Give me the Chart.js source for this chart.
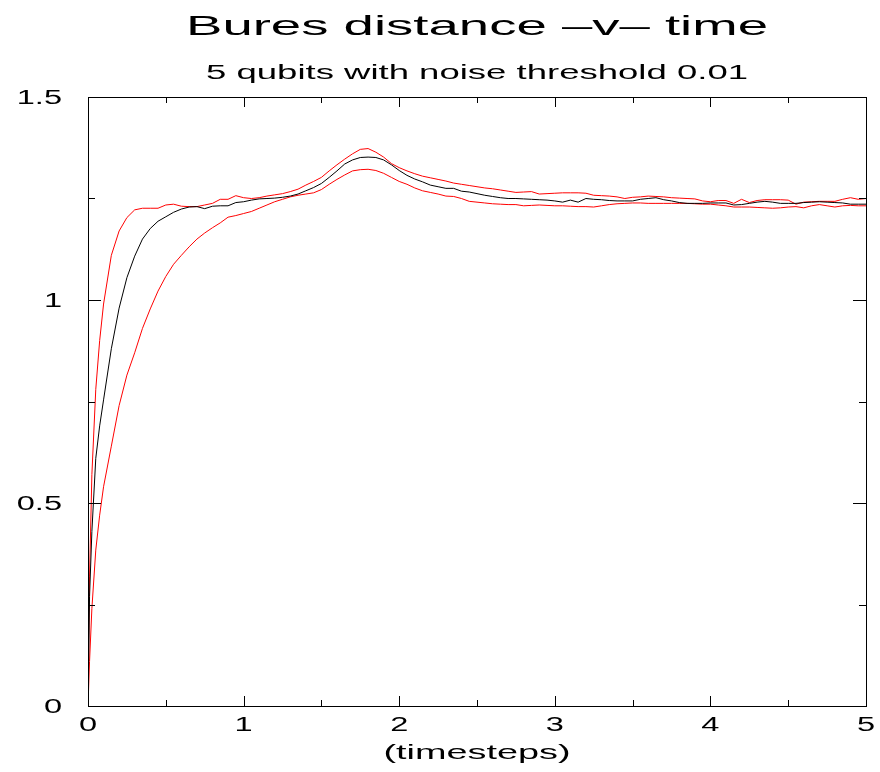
<!DOCTYPE html>
<html>
<head>
<meta charset="utf-8">
<script src="https://cdn.jsdelivr.net/npm/chart.js@4/dist/chart.umd.min.js"></script>
<style>
  html, body { margin: 0; padding: 0; background: #fff; }
  #wrap { width: 880px; height: 772px; }
</style>
</head>
<body>
<div id="wrap"><canvas id="plot" width="880" height="772"></canvas></div>
<script>
// bures distance vs time, 5 qubits

const times = [
  0, 0.01, 0.025, 0.05, 0.075, 0.1, 0.15, 0.2, 0.25, 0.3,
  0.35, 0.4, 0.45, 0.5, 0.55, 0.6, 0.65, 0.7, 0.75, 0.8,
  0.85, 0.9, 0.95, 1, 1.05, 1.1, 1.15, 1.2, 1.25, 1.3,
  1.35, 1.4, 1.45, 1.5, 1.55, 1.6, 1.65, 1.7, 1.75, 1.8,
  1.85, 1.9, 1.95, 2, 2.05, 2.1, 2.15, 2.2, 2.25, 2.3,
  2.35, 2.4, 2.45, 2.5, 2.55, 2.6, 2.65, 2.7, 2.75, 2.8,
  2.85, 2.9, 2.95, 3, 3.05, 3.1, 3.15, 3.2, 3.25, 3.3,
  3.35, 3.4, 3.45, 3.5, 3.55, 3.6, 3.65, 3.7, 3.75, 3.8,
  3.85, 3.9, 3.95, 4, 4.05, 4.1, 4.15, 4.2, 4.25, 4.3,
  4.35, 4.4, 4.45, 4.5, 4.55, 4.6, 4.65, 4.7, 4.75, 4.8,
  4.85, 4.9, 4.95, 5,
]

// upper red band
const upperBand = [
  0, 0.32, 0.57, 0.78, 0.9, 0.99, 1.11, 1.17, 1.203, 1.222,
  1.226, 1.226, 1.226, 1.234, 1.236, 1.231, 1.23, 1.23, 1.234, 1.238,
  1.248, 1.248, 1.257, 1.252, 1.25, 1.252, 1.256, 1.259, 1.262, 1.267,
  1.273, 1.283, 1.292, 1.302, 1.318, 1.333, 1.347, 1.36, 1.371, 1.373,
  1.364, 1.352, 1.336, 1.326, 1.318, 1.311, 1.305, 1.301, 1.297, 1.293,
  1.288, 1.285, 1.282, 1.279, 1.276, 1.274, 1.271, 1.268, 1.265, 1.266,
  1.267, 1.261, 1.262, 1.263, 1.264, 1.264, 1.264, 1.263, 1.258, 1.257,
  1.256, 1.254, 1.25, 1.253, 1.254, 1.256, 1.255, 1.254, 1.252, 1.251,
  1.25, 1.249, 1.244, 1.242, 1.245, 1.245, 1.238, 1.248, 1.24, 1.245,
  1.247, 1.247, 1.247, 1.246, 1.236, 1.241, 1.242, 1.243, 1.243, 1.243,
  1.248, 1.252, 1.248, 1.25,
]

// mean (black)
const meanDist = [
  0, 0.27, 0.43, 0.61, 0.69, 0.754, 0.88, 0.98, 1.055, 1.108,
  1.15, 1.176, 1.194, 1.205, 1.216, 1.224, 1.229, 1.23, 1.225, 1.231,
  1.232, 1.232, 1.24, 1.242, 1.246, 1.249, 1.25, 1.251, 1.253, 1.256,
  1.261, 1.269, 1.277, 1.287, 1.302, 1.318, 1.335, 1.345, 1.351, 1.352,
  1.351, 1.345, 1.333, 1.319, 1.307, 1.298, 1.291, 1.283, 1.279, 1.275,
  1.275, 1.268, 1.266, 1.262, 1.258, 1.255, 1.252, 1.25, 1.25, 1.249,
  1.248, 1.247, 1.246, 1.244, 1.241, 1.246, 1.241, 1.25, 1.248, 1.247,
  1.245, 1.244, 1.244, 1.244, 1.248, 1.25, 1.252, 1.247, 1.244, 1.24,
  1.238, 1.238, 1.238, 1.239, 1.239, 1.239, 1.234, 1.235, 1.238, 1.241,
  1.243, 1.241, 1.238, 1.238, 1.238, 1.24, 1.241, 1.242, 1.241, 1.24,
  1.239, 1.236, 1.236, 1.236,
]

// lower red band
const lowerBand = [
  0, 0.11, 0.24, 0.384, 0.47, 0.54, 0.64, 0.74, 0.815, 0.87,
  0.93, 0.978, 1.022, 1.058, 1.088, 1.11, 1.131, 1.15, 1.165, 1.178,
  1.19, 1.204, 1.208, 1.213, 1.218, 1.226, 1.234, 1.242, 1.248, 1.254,
  1.258, 1.261, 1.264, 1.272, 1.285, 1.297, 1.308, 1.318, 1.321, 1.322,
  1.319, 1.312, 1.302, 1.292, 1.285, 1.276, 1.269, 1.265, 1.261, 1.256,
  1.255, 1.25, 1.243, 1.241, 1.239, 1.237, 1.236, 1.235, 1.235, 1.232,
  1.233, 1.234, 1.233, 1.232, 1.232, 1.231, 1.23, 1.23, 1.229, 1.232,
  1.235, 1.237, 1.238, 1.239, 1.239, 1.238, 1.238, 1.238, 1.238, 1.238,
  1.238, 1.237, 1.236, 1.236, 1.234, 1.232, 1.229, 1.229, 1.229, 1.228,
  1.227, 1.226, 1.227, 1.229, 1.23, 1.227, 1.232, 1.235, 1.232, 1.229,
  1.232, 1.233, 1.232, 1.232,
]

const xLabels = ['0', '1', '2', '3', '4', '5']
const yLabels = ['0', '0.5', '1', '1.5']

const titleText = 'Bures distance \u2013v\u2013 time'
const subtitleText = '5 qubits with noise threshold 0.01'
const xTitleText = '(timesteps)'

const fontFam = "'Liberation Sans', Arial, Helvetica, sans-serif"

const toPoints = (vals) => times.map((t, i) => ({ x: t, y: vals[i] }))

const lineSet = (label, vals, color) => {
  return {
    label: label,
    data: toPoints(vals),
    borderColor: color,
    borderWidth: 1,
    pointRadius: 0,
    tension: 0,
    fill: false,
  }
}

// the original text is wide and flat, so draw it stretched sideways
const wideText = (ctx, text, x, y, size, opts) => {
  ctx.font = `${size}px ${fontFam}`
  const w = ctx.measureText(text).width
  const sx = opts.width ? opts.width / w : opts.sx
  ctx.save()
  ctx.translate(x, y)
  ctx.scale(sx, 1)
  ctx.textAlign = opts.align || 'center'
  ctx.textBaseline = 'alphabetic'
  ctx.fillStyle = '#000'
  ctx.fillText(text, 0, 0)
  ctx.restore()
}

const textLayer = {
  id: 'textLayer',
  afterDraw(chart) {
    const { ctx, chartArea: a, scales } = chart
    const mid = (a.left + a.right) / 2
    wideText(ctx, titleText, mid, 35, 28, { width: 582 })
    wideText(ctx, subtitleText, mid, 79, 19.5, { width: 542 })
    wideText(ctx, xTitleText, mid, 759, 20, { width: 187 })
    for (const t of scales.x.ticks) {
      const s = String(t.value)
      if (!xLabels.includes(s)) continue
      wideText(ctx, s, scales.x.getPixelForValue(t.value), a.bottom + 25, 19.5, { sx: 1.67 })
    }
    for (const t of scales.y.ticks) {
      const s = String(t.value)
      if (!yLabels.includes(s)) continue
      wideText(ctx, s, a.left - 26, scales.y.getPixelForValue(t.value) + 7, 19.5, { sx: 1.67, align: 'right' })
    }
  },
}

// frame + inward ticks, gnuplot style
const frameTicks = {
  id: 'frameTicks',
  afterDatasetsDraw(chart) {
    const { ctx, chartArea: a, scales } = chart
    ctx.save()
    ctx.strokeStyle = '#000'
    ctx.lineWidth = 1
    ctx.strokeRect(a.left + 0.5, a.top + 0.5, a.right - a.left, a.bottom - a.top)
    ctx.beginPath()
    for (const t of scales.x.ticks) {
      const px = Math.round(scales.x.getPixelForValue(t.value)) + 0.5
      const len = xLabels.includes(String(t.value)) ? 10 : 6
      ctx.moveTo(px, a.bottom)
      ctx.lineTo(px, a.bottom - len)
      ctx.moveTo(px, a.top)
      ctx.lineTo(px, a.top + len)
    }
    for (const t of scales.y.ticks) {
      const py = Math.round(scales.y.getPixelForValue(t.value)) + 0.5
      const len = yLabels.includes(String(t.value)) ? 13 : 7
      ctx.moveTo(a.left, py)
      ctx.lineTo(a.left + len, py)
      ctx.moveTo(a.right, py)
      ctx.lineTo(a.right - len, py)
    }
    ctx.stroke()
    ctx.restore()
  },
}

const ctx = document.getElementById('plot').getContext('2d')
const myChart = new Chart(ctx, {
  type: 'line',
  data: {
    datasets: [
      lineSet('mean', meanDist, '#000000'),
      lineSet('upper', upperBand, '#ff0000'),
      lineSet('lower', lowerBand, '#ff0000'),
    ],
  },
  options: {
    responsive: false,
    animation: false,
    devicePixelRatio: 1,
    layout: { padding: { top: 97, right: 14, bottom: 0, left: 0 } },
    scales: {
      x: {
        type: 'linear',
        min: 0,
        max: 5,
        afterFit: (s) => { s.height = 66 },
        grid: { display: false, drawTicks: false },
        border: { display: false },
        ticks: { display: false, stepSize: 0.5, autoSkip: false },
      },
      y: {
        min: 0,
        max: 1.5,
        afterFit: (s) => { s.width = 88 },
        grid: { display: false, drawTicks: false },
        border: { display: false },
        ticks: { display: false, stepSize: 0.25, autoSkip: false },
      },
    },
    plugins: {
      legend: { display: false },
      tooltip: { enabled: false },
      title: { display: false },
    },
  },
  plugins: [frameTicks, textLayer],
})
</script>
</body>
</html>
